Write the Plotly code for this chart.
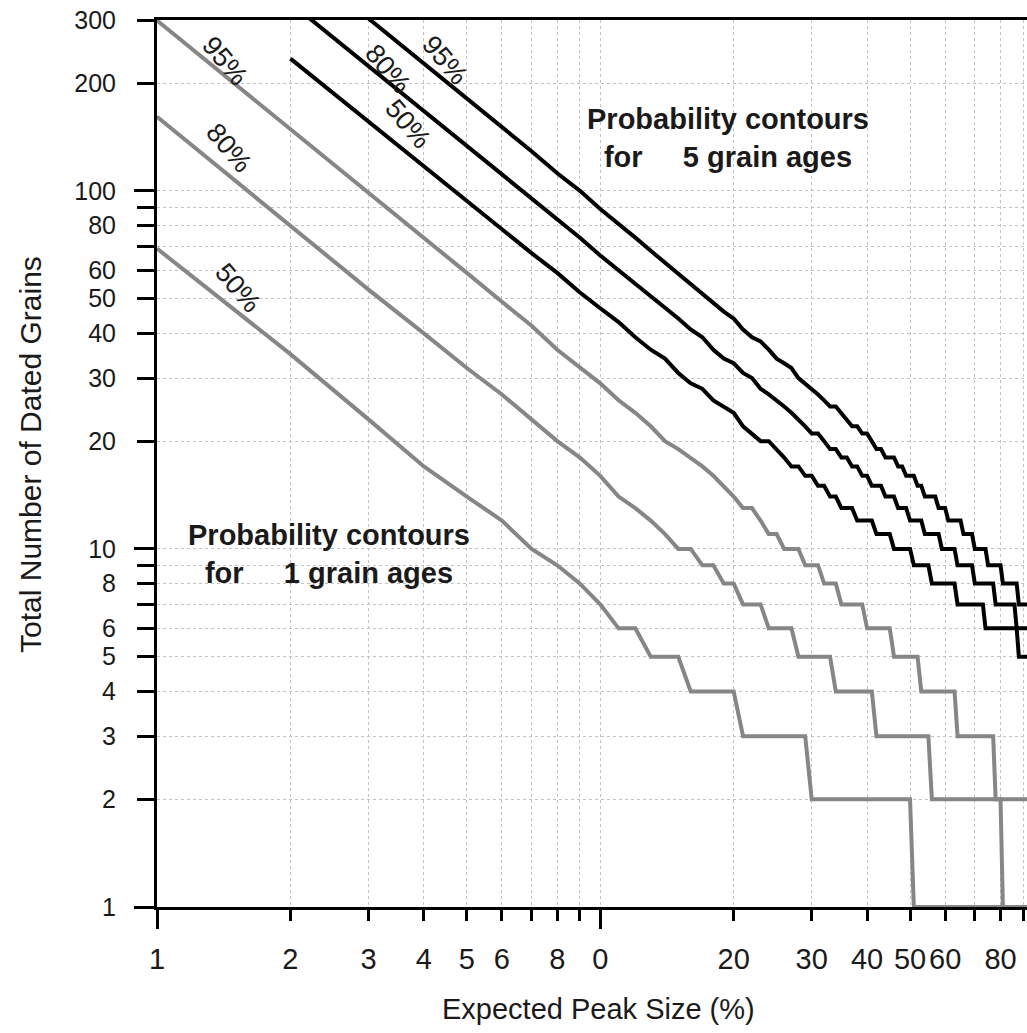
import math
import plotly.graph_objects as go

# Expected peak size (%) sampled at whole percents
PCT = [1, 2, 3, 4, 5, 6, 7, 8, 9, 10, 11, 12, 13, 14, 15, 16, 17, 18, 19, 20,
       21, 22, 23, 24, 25, 26, 27, 28, 29, 30, 31, 32, 33, 34, 35, 36, 37, 38, 39, 40,
       41, 42, 43, 44, 45, 46, 47, 48, 49, 50, 51, 52, 53, 54, 55, 56, 57, 58, 59, 60,
       61, 62, 63, 64, 65, 66, 67, 68, 69, 70, 71, 72, 73, 74, 75, 76, 77, 78, 79, 80,
       81, 82, 83, 84, 85, 86, 87, 88, 89, 90, 91, 92]

# 1 grain ages (grey)
G95 = [299, 149, 99, 74, 59, 49, 42, 36, 32, 29,
       26, 24, 22, 20, 19, 18, 17, 16, 15, 14,
       13, 13, 12, 11, 11, 10, 10, 10, 9, 9,
       9, 8, 8, 8, 7, 7, 7, 7, 7, 6,
       6, 6, 6, 6, 6, 5, 5, 5, 5, 5,
       5, 5, 4, 4, 4, 4, 4, 4, 4, 4,
       4, 4, 4, 3, 3, 3, 3, 3, 3, 3,
       3, 3, 3, 3, 3, 3, 3, 2, 2, 2,
       2, 2, 2, 2, 2, 2, 2, 2, 2, 2,
       2, 2]
G80 = [161, 80, 53, 40, 32, 27, 23, 20, 18, 16,
       14, 13, 12, 11, 10, 10, 9, 9, 8, 8,
       7, 7, 7, 6, 6, 6, 6, 5, 5, 5,
       5, 5, 5, 4, 4, 4, 4, 4, 4, 4,
       4, 3, 3, 3, 3, 3, 3, 3, 3, 3,
       3, 3, 3, 3, 3, 2, 2, 2, 2, 2,
       2, 2, 2, 2, 2, 2, 2, 2, 2, 2,
       2, 2, 2, 2, 2, 2, 2, 2, 2, 2,
       1, 1, 1, 1, 1, 1, 1, 1, 1, 1,
       1, 1]
G50 = [69, 35, 23, 17, 14, 12, 10, 9, 8, 7,
       6, 6, 5, 5, 5, 4, 4, 4, 4, 4,
       3, 3, 3, 3, 3, 3, 3, 3, 3, 2,
       2, 2, 2, 2, 2, 2, 2, 2, 2, 2,
       2, 2, 2, 2, 2, 2, 2, 2, 2, 2,
       1, 1, 1, 1, 1, 1, 1, 1, 1, 1,
       1, 1, 1, 1, 1, 1, 1, 1, 1, 1,
       1, 1, 1, 1, 1, 1, 1, 1, 1, 1,
       1, 1, 1, 1, 1, 1, 1, 1, 1, 1,
       1, 1]

# 5 grain ages (black)
PCT_B95 = PCT[2:]
B95 = [303, 227, 181, 150, 129, 112, 100, 89,
       81, 74, 68, 63, 59, 55, 52, 49, 46, 44,
       41, 39, 38, 36, 34, 33, 32, 30, 29, 28,
       27, 26, 25, 25, 24, 23, 22, 22, 21, 21,
       20, 19, 19, 18, 18, 18, 17, 17, 16, 16,
       16, 15, 15, 14, 14, 14, 14, 13, 13, 13,
       12, 12, 12, 12, 12, 11, 11, 11, 11, 10,
       10, 10, 10, 10, 9, 9, 9, 9, 9, 9,
       8, 8, 8, 8, 8, 8, 8, 7, 7, 7,
       7, 7]
PCT_B80 = PCT[1:]
B80 = [335, 223, 167, 134, 111, 95, 83, 74, 66,
       60, 55, 51, 47, 44, 41, 39, 36, 34, 33,
       31, 30, 28, 27, 26, 25, 24, 23, 22, 21,
       21, 20, 19, 19, 18, 18, 17, 17, 16, 16,
       15, 15, 15, 14, 14, 14, 13, 13, 13, 12,
       12, 12, 12, 11, 11, 11, 11, 11, 10, 10,
       10, 10, 10, 9, 9, 9, 9, 9, 9, 8,
       8, 8, 8, 8, 8, 8, 8, 7, 7, 7,
       7, 7, 7, 7, 7, 7, 6, 6, 6, 6,
       6, 6]
PCT_B50 = PCT[1:]
B50 = [234, 156, 117, 94, 78, 67, 59, 52, 47,
       43, 39, 36, 34, 31, 29, 28, 26, 25, 24,
       22, 21, 20, 20, 19, 18, 17, 17, 16, 16,
       15, 15, 14, 14, 13, 13, 13, 12, 12, 12,
       12, 11, 11, 11, 11, 10, 10, 10, 10, 10,
       9, 9, 9, 9, 9, 8, 8, 8, 8, 8,
       8, 8, 8, 7, 7, 7, 7, 7, 7, 7,
       7, 7, 7, 6, 6, 6, 6, 6, 6, 6,
       6, 6, 6, 6, 6, 6, 6, 5, 5, 5,
       5, 5]

X_TICKS = [1, 2, 3, 4, 5, 6, 7, 8, 9, 10, 20, 30, 40, 50, 60, 70, 80, 90]
X_LABELS = ["1", "2", "3", "4", "5", "6", "", "8", "", "0", "20", "30", "40", "50", "60", "", "80", ""]
Y_TICKS = [1, 2, 3, 4, 5, 6, 7, 8, 9, 10, 20, 30, 40, 50, 60, 70, 80, 90, 100, 200, 300]
Y_LABELS = ["1", "2", "3", "4", "5", "6", "", "8", "", "10", "20", "30", "40", "50", "60", "",
            "80", "", "100", "200", "300"]
X_LONG_TICKS = [1, 10]
Y_LONG_TICKS = [1, 10, 100]

X_MIN, X_MAX = 1, 91.8
Y_MIN, Y_MAX = 1, 300

FONT = "Liberation Sans, Arial, Helvetica, sans-serif"
GREY = "#868686"
xr = [math.log10(X_MIN), math.log10(X_MAX)]
yr = [math.log10(Y_MIN), math.log10(Y_MAX)]

fig = go.Figure()
for xs, ys, col in [(PCT, G95, GREY), (PCT, G80, GREY), (PCT, G50, GREY),
                    (PCT_B95, B95, "black"), (PCT_B80, B80, "black"), (PCT_B50, B50, "black")]:
    fig.add_trace(go.Scatter(x=xs, y=ys, mode="lines",
                             line=dict(color=col, width=4), showlegend=False,
                             hoverinfo="skip"))

# dummy traces to carry the long-tick overlay axes
fig.add_trace(go.Scatter(x=[], y=[], xaxis="x2", yaxis="y", showlegend=False))
fig.add_trace(go.Scatter(x=[], y=[], xaxis="x", yaxis="y2", showlegend=False))

common = dict(type="log", showline=True, linewidth=3, linecolor="black",
              ticks="outside", tickwidth=3, tickcolor="black",
              showgrid=True, gridcolor="#c2c2c2", griddash="dot", gridwidth=1,
              zeroline=False, layer="below traces")

fig.update_layout(
    width=1027, height=1033,
    margin=dict(l=157, r=0, t=20, b=126, pad=0),
    paper_bgcolor="white", plot_bgcolor="white",
    xaxis=dict(range=xr, tickmode="array", tickvals=X_TICKS, ticktext=X_LABELS,
               ticklen=11, mirror=True, ticklabelstandoff=13,
               tickfont=dict(family=FONT, size=29, color="#1a1a1a"), **common),
    yaxis=dict(range=yr, tickmode="array", tickvals=Y_TICKS, ticktext=Y_LABELS,
               ticklen=17, ticklabelstandoff=16,
               tickfont=dict(family=FONT, size=25, color="#1a1a1a"), **common),
    xaxis2=dict(type="log", range=xr, overlaying="x", anchor="y", side="bottom",
                tickmode="array", tickvals=X_LONG_TICKS, ticktext=["", ""],
                ticks="outside", ticklen=21, tickwidth=3, tickcolor="black",
                showgrid=False, showline=False, zeroline=False),
    yaxis2=dict(type="log", range=yr, overlaying="y", anchor="x", side="left",
                tickmode="array", tickvals=Y_LONG_TICKS, ticktext=["", "", ""],
                ticks="outside", ticklen=22, tickwidth=3, tickcolor="black",
                showgrid=False, showline=False, zeroline=False),
    showlegend=False,
)

def ann(text, x, y, size, angle=0, bold=False):
    fig.add_annotation(text=("<b>%s</b>" % text) if bold else text,
                       x=x, y=y, xref="paper", yref="paper", showarrow=False,
                       xanchor="center", yanchor="middle", textangle=angle,
                       align="center",
                       font=dict(family=FONT, size=size, color="#1a1a1a"))

NB = "\u00a0"
ann("Probability contours<br>for" + NB * 5 + "5 grain ages", 0.6563, 0.8670, 29, bold=True)
ann("Probability contours<br>for" + NB * 5 + "1 grain ages", 0.1977, 0.3980, 29, bold=True)

ann("95%", 0.0782, 0.9538, 27, angle=50)
ann("80%", 0.0828, 0.8557, 27, angle=50)
ann("50%", 0.0931, 0.6979, 27, angle=50)
ann("80%", 0.2655, 0.9448, 27, angle=50)
ann("50%", 0.2885, 0.8828, 27, angle=50)
ann("95%", 0.3310, 0.9549, 27, angle=50)

ann("Total Number of Dated Grains", -0.1460, 0.5107, 30, angle=-90)
ann("Expected Peak Size (%)", 0.5069, -0.1150, 29)

fig.write_html("out.html")
